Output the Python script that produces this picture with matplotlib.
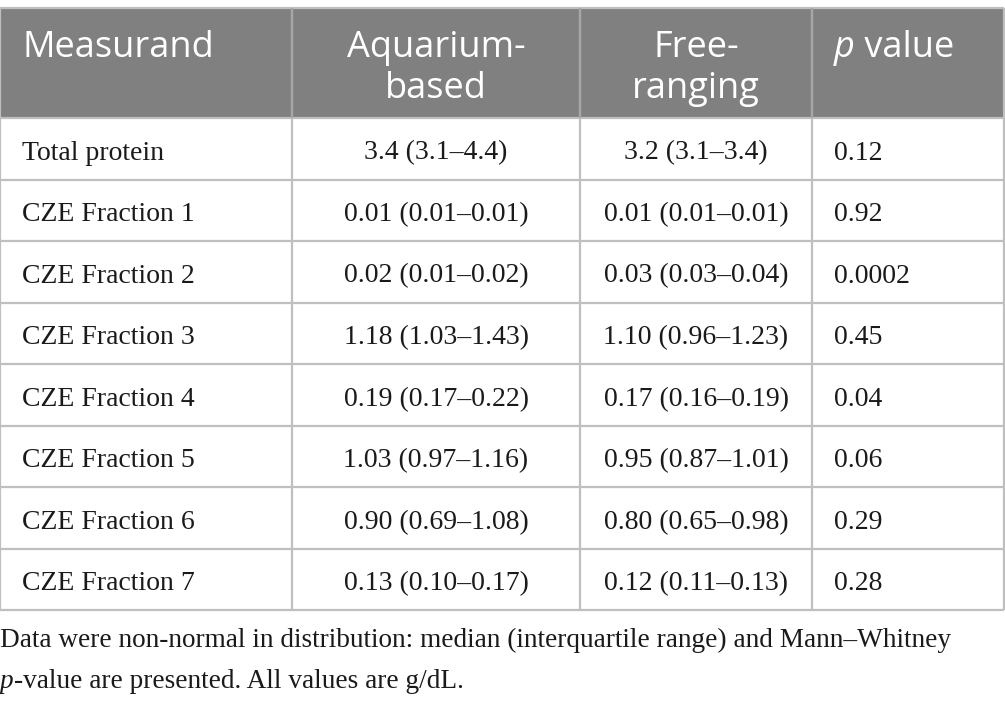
import matplotlib
matplotlib.use("Agg")
import matplotlib.pyplot as plt

# table content
headers = ["Measurand", "Aquarium-\nbased", "Free-\nranging", "p value"]
measurands = ["Total protein", "CZE Fraction 1", "CZE Fraction 2", "CZE Fraction 3",
              "CZE Fraction 4", "CZE Fraction 5", "CZE Fraction 6", "CZE Fraction 7"]
aquarium = ["3.4 (3.1–4.4)", "0.01 (0.01–0.01)", "0.02 (0.01–0.02)", "1.18 (1.03–1.43)",
            "0.19 (0.17–0.22)", "1.03 (0.97–1.16)", "0.90 (0.69–1.08)", "0.13 (0.10–0.17)"]
free_ranging = ["3.2 (3.1–3.4)", "0.01 (0.01–0.01)", "0.03 (0.03–0.04)", "1.10 (0.96–1.23)",
                "0.17 (0.16–0.19)", "0.95 (0.87–1.01)", "0.80 (0.65–0.98)", "0.12 (0.11–0.13)"]
p_values = ["0.12", "0.92", "0.0002", "0.45", "0.04", "0.06", "0.29", "0.28"]
footnote_1 = "Data were non-normal in distribution: median (interquartile range) and Mann–Whitney"
footnote_2 = "-value are presented. All values are g/dL."

# layout in pixels (figure is 1005 x 704 at dpi 100)
W, H = 1005, 704
col_edges = [0, 292, 580, 812, 1004]
top = 8
header_bottom = 118
row_h = 61.56
grid_color = "#bfbfbf"
header_color = "#808080"
text_color = "#1a1a1a"
sans = "Open Sans"
serif = "Liberation Serif"
header_size = 26
body_size = 20
foot_size = 19.6

fig = plt.figure(figsize=(W / 100, H / 100), dpi=100)
ax = fig.add_axes([0, 0, 1, 1])
ax.set_xlim(0, W)
ax.set_ylim(H, 0)
ax.axis("off")

n = len(measurands)
table_bottom = header_bottom + n * row_h

# header background
ax.fill_between([col_edges[0], col_edges[-1]], top, header_bottom, color=header_color, lw=0)

# grid lines
ax.hlines([top, header_bottom] + [header_bottom + (i + 1) * row_h for i in range(n)],
          col_edges[0], col_edges[-1], color=grid_color, lw=1.6)
ax.vlines(col_edges, top, table_bottom, color=grid_color, lw=1.6)
ax.vlines(col_edges[1:-1], top, header_bottom, color="#a6a6a6", lw=1.6)

fig.canvas.draw()
renderer = fig.canvas.get_renderer()


def run_text(x, y, parts, **kw):
    # draws pieces of text one after another on the same baseline
    for s, style in parts:
        t = ax.text(x, y, s, fontstyle=style, va="baseline", ha="left", **kw)
        bb = t.get_window_extent(renderer=renderer)
        x += bb.width


# header text
pad = 22
line_base = [57, 98]
ax.text(col_edges[0] + pad, line_base[0], headers[0], color="white",
        family=sans, fontsize=header_size, va="baseline", ha="left")
for ci in (1, 2):
    cx = (col_edges[ci] + col_edges[ci + 1]) / 2
    for li, line in enumerate(headers[ci].split("\n")):
        ax.text(cx, line_base[li], line, color="white", family=sans,
                fontsize=header_size, va="baseline", ha="center")
hp, hrest = headers[3].split(" ", 1)
run_text(col_edges[3] + pad, line_base[0], [(hp, "italic"), (" " + hrest, "normal")],
         color="white", family=sans, fontsize=header_size)

# body rows
for i in range(n):
    yb = header_bottom + i * row_h + 41.5
    ax.text(col_edges[0] + pad, yb, measurands[i], color=text_color, family=serif,
            fontsize=body_size, va="baseline", ha="left")
    ax.text((col_edges[1] + col_edges[2]) / 2, yb, aquarium[i], color=text_color,
            family=serif, fontsize=body_size, va="baseline", ha="center")
    ax.text((col_edges[2] + col_edges[3]) / 2, yb, free_ranging[i], color=text_color,
            family=serif, fontsize=body_size, va="baseline", ha="center")
    ax.text(col_edges[3] + pad, yb, p_values[i], color=text_color, family=serif,
            fontsize=body_size, va="baseline", ha="left")

# footnote
ax.text(0, 647, footnote_1, color=text_color, family=serif, fontsize=foot_size,
        va="baseline", ha="left")
run_text(0, 688, [("p", "italic"), (footnote_2, "normal")],
         color=text_color, family=serif, fontsize=foot_size)

fig.savefig("out.png", dpi=100)
